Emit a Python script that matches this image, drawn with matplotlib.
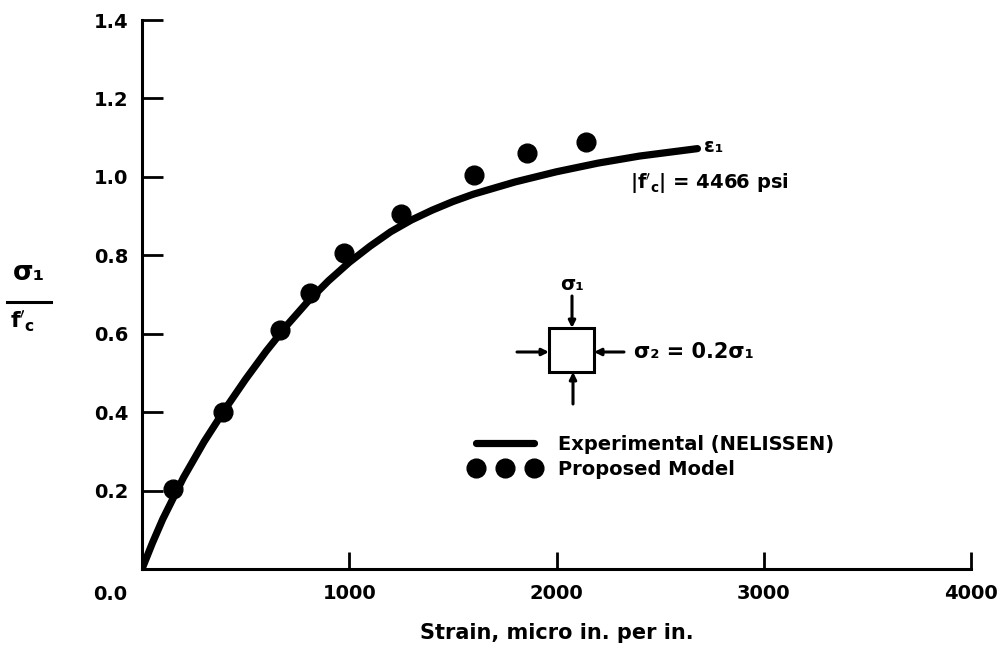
import matplotlib
matplotlib.use("Agg")
import matplotlib.pyplot as plt
from matplotlib.lines import Line2D
from matplotlib.patches import Rectangle

plt.rcParams['font.family'] = ['DejaVu Sans']
plt.rcParams['font.weight'] = 'bold'
plt.rcParams['mathtext.fontset'] = 'dejavusans'
plt.rcParams['mathtext.default'] = 'bf'

## experimental curve (Nelissen)
exp_strain = [0, 50, 100, 200, 300, 400, 500, 600, 700, 800, 900, 1000, 1100, 1200,
              1300, 1400, 1500, 1600, 1800, 2000, 2200, 2400, 2680]
exp_stress = [0, 0.066, 0.127, 0.233, 0.325, 0.407, 0.484, 0.556, 0.622, 0.682, 0.735,
              0.782, 0.823, 0.86, 0.89, 0.915, 0.937, 0.956, 0.987, 1.013, 1.035, 1.053, 1.072]

## proposed model points
model_strain = [150, 390, 665, 810, 975, 1250, 1600, 1860, 2140]
model_stress = [0.205, 0.40, 0.61, 0.705, 0.805, 0.905, 1.005, 1.06, 1.09]

x_ticks = [1000, 2000, 3000, 4000]
y_ticks = [0.2, 0.4, 0.6, 0.8, 1.0, 1.2, 1.4]

W, H = 1007, 659
fig = plt.figure(figsize=(W / 100, H / 100), dpi=100)
ax = fig.add_axes([142 / W, 1 - 569 / H, (971 - 142) / W, (569 - 20) / H])

def px(x, y):
    # figure pixel position -> figure fraction
    return (x / W, 1 - y / H)

ax.plot(exp_strain, exp_stress, color='black', lw=5.2, solid_capstyle='round',
        solid_joinstyle='round', label='Experimental (NELISSEN)')
ax.plot(model_strain, model_stress, 'o', color='black', ms=13.5,
        label='Proposed Model')

ax.set_xlim(0, 4000)
ax.set_ylim(0, 1.4)
ax.set_xticks(x_ticks)
ax.set_yticks(y_ticks)
ax.set_yticklabels(['%.1f' % v for v in y_ticks])
ax.spines['top'].set_visible(False)
ax.spines['right'].set_visible(False)
for s in ['left', 'bottom']:
    ax.spines[s].set_linewidth(2.2)
ax.tick_params(axis='y', direction='in', length=15, width=2, pad=10, labelsize=14)
ax.tick_params(axis='x', direction='in', length=12, width=2, pad=11, labelsize=14)
for lab in ax.get_xticklabels() + ax.get_yticklabels():
    lab.set_fontweight('bold')

fig.text(*px(110, 595), '0.0', fontsize=14, fontweight='bold', ha='center', va='center')
ax.set_xlabel('Strain, micro in. per in.', fontsize=15, fontweight='bold', labelpad=14)

# y label as a fraction
fig.text(*px(29, 273), 'σ₁', fontsize=19, fontweight='bold', ha='center', va='center')
fig.add_artist(Line2D([7 / W, 51 / W], [1 - 302 / H, 1 - 302 / H], color='black', lw=2.2))
fig.text(*px(23, 321), "$f'_c$", fontsize=16, ha='center', va='center')

# annotations near curve end
fig.text(*px(714, 146), 'ε₁', fontsize=14, fontweight='bold', ha='center', va='center')
fig.text(*px(630, 183), "$|f'_c|$ = 4466 psi", fontsize=14, ha='left', va='center')

# stress element sketch
fig.add_artist(Rectangle(px(549, 372), 45 / W, 44 / H, fill=False, lw=2.2,
                         edgecolor='black', transform=fig.transFigure))
arrow = dict(arrowstyle='-|>', color='black', lw=2.2, mutation_scale=10,
             shrinkA=0, shrinkB=0)
for tip, tail in [((572, 328), (572, 296)), ((573, 372), (573, 404)),
                  ((549, 352), (517, 352)), ((594, 352), (624, 352))]:
    ax.annotate('', xy=px(*tip), xytext=px(*tail), xycoords='figure fraction',
                textcoords='figure fraction', arrowprops=arrow)
fig.text(*px(572, 284), 'σ₁', fontsize=14, fontweight='bold', ha='center', va='center')
fig.text(*px(634, 352), 'σ₂ = 0.2σ₁', fontsize=15, fontweight='bold', ha='left', va='center')

ax.legend(loc='center left', bbox_to_anchor=px(470, 457), bbox_transform=fig.transFigure,
          frameon=False, numpoints=3, handlelength=3.6, handletextpad=0.9,
          labelspacing=0.3, borderpad=0, borderaxespad=0,
          prop={'size': 14, 'weight': 'bold'})

fig.savefig('out.png', dpi=100)
